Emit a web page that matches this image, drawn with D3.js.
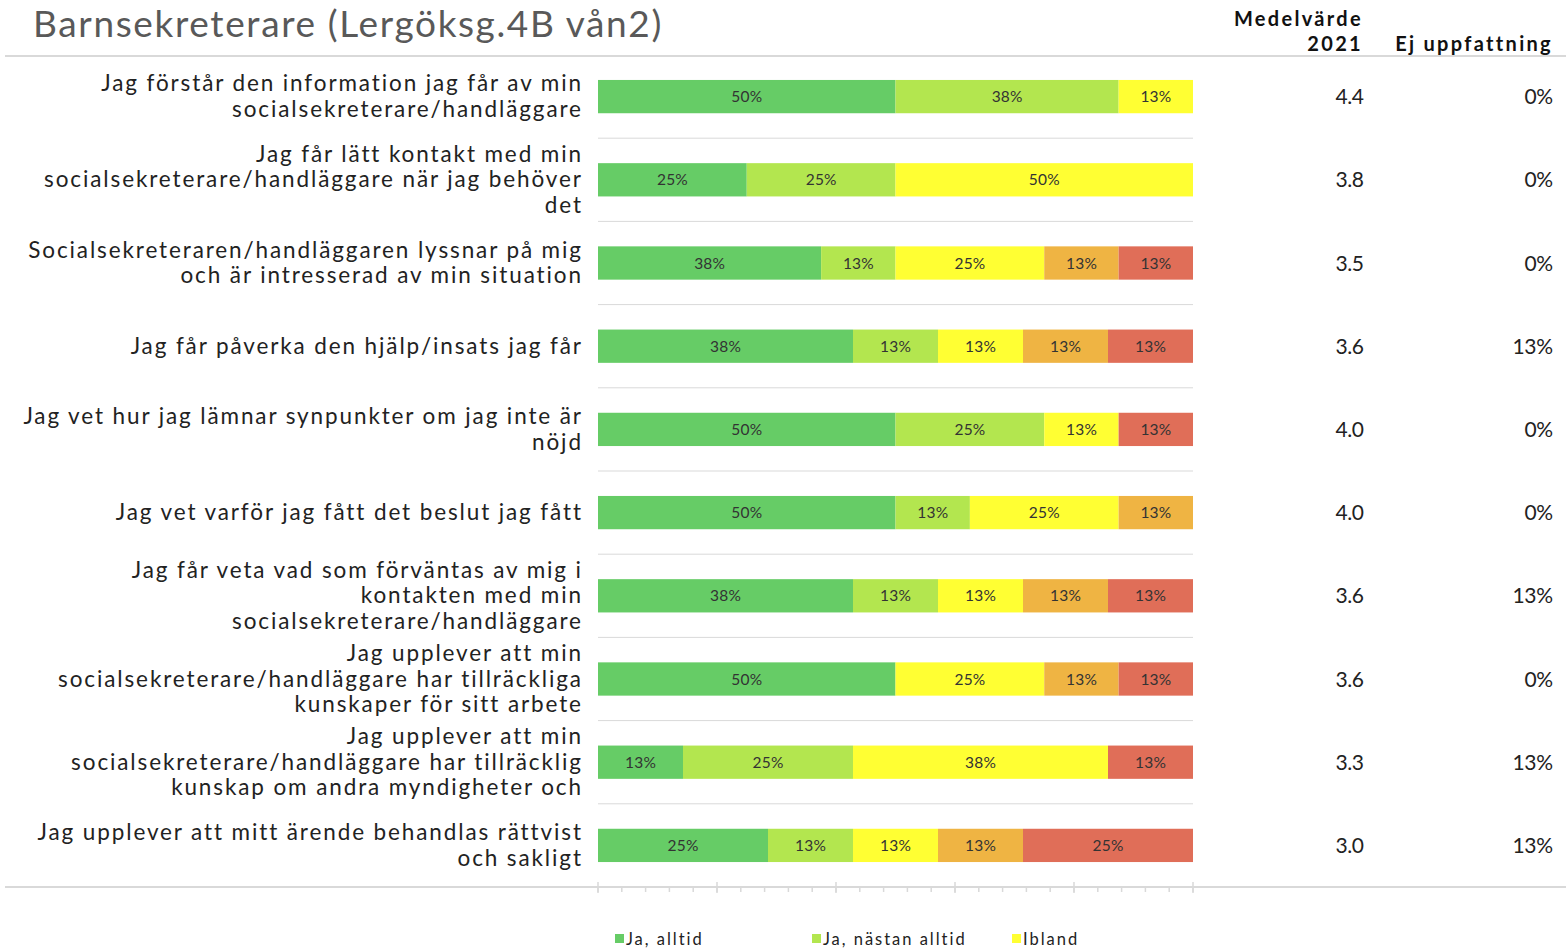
<!DOCTYPE html>
<html><head><meta charset="utf-8">
<script src="https://cdn.jsdelivr.net/npm/d3@7/dist/d3.min.js"></script>
<style>
body{margin:0;background:#fff;}
svg{display:block;}
text{font-family:"Lato","DejaVu Sans",sans-serif;}
</style></head>
<body><svg id="c" width="1566" height="948"></svg>
<script>
const title = "Barnsekreterare (Lergöksg.4B vån2)";
const questions = [
  ["Jag förstår den information jag får av min","socialsekreterare/handläggare"],
  ["Jag får lätt kontakt med min","socialsekreterare/handläggare när jag behöver","det"],
  ["Socialsekreteraren/handläggaren lyssnar på mig","och är intresserad av min situation"],
  ["Jag får påverka den hjälp/insats jag får"],
  ["Jag vet hur jag lämnar synpunkter om jag inte är","nöjd"],
  ["Jag vet varför jag fått det beslut jag fått"],
  ["Jag får veta vad som förväntas av mig i","kontakten med min","socialsekreterare/handläggare"],
  ["Jag upplever att min","socialsekreterare/handläggare har tillräckliga","kunskaper för sitt arbete"],
  ["Jag upplever att min","socialsekreterare/handläggare har tillräcklig","kunskap om andra myndigheter och"],
  ["Jag upplever att mitt ärende behandlas rättvist","och sakligt"]
];
const seriesNames = ["Ja, alltid","Ja, nästan alltid","Ibland","Sällan","Aldrig"];
const jaAlltid      = [50, 25, 37.5, 37.5, 50, 50, 37.5, 50, 12.5, 25];
const jaNastanAlltid= [37.5, 25, 12.5, 12.5, 25, 12.5, 12.5, 0, 25, 12.5];
const ibland        = [12.5, 50, 25, 12.5, 12.5, 25, 12.5, 25, 37.5, 12.5];
const sallan        = [0, 0, 12.5, 12.5, 0, 12.5, 12.5, 12.5, 0, 12.5];
const aldrig        = [0, 0, 12.5, 12.5, 12.5, 0, 12.5, 12.5, 12.5, 25];
const medelvarde    = ["4.4","3.8","3.5","3.6","4.0","4.0","3.6","3.6","3.3","3.0"];
const ejUppfattning = ["0%","0%","0%","13%","0%","0%","13%","0%","13%","13%"];
const colors = ["#66CC66","#B3E64F","#FFFF33","#EFB443","#E06E58"];
const legendShown = 3;

const svg = d3.select("#c");

// letter-spacing so that a sample string reaches the width seen in the reference
function spacingFor(sample, target, size, weight){
  const t = svg.append("text").attr("font-size",size).attr("font-weight",weight||"normal").text(sample);
  const w = t.node().getComputedTextLength();
  t.remove();
  return (target - w) / sample.length;
}

const seriesArr = [jaAlltid, jaNastanAlltid, ibland, sallan, aldrig];
const rows = questions.map((q,i)=>{
  const vals = seriesArr.map(s=>s[i]);
  const total = d3.sum(vals);
  let acc = 0;
  const segs = vals.map((v,k)=>{ const s={k, v, x0:acc/total, x1:(acc+v)/total}; acc+=v; return s;});
  return {i, q, segs};
});

const y = d3.scaleBand().domain(d3.range(questions.length)).range([55,887]).paddingInner(0.6).paddingOuter(0.3);
const x = d3.scaleLinear().domain([0,1]).range([598,1193]);
const step = y.step();

const qSize = 22.5, qSp = spacingFor("Jag förstår den information jag får av min", 482, qSize);
const tSize = 37, tSp = spacingFor(title, 630, tSize);
const hSize = 20, hSp = spacingFor("Ej uppfattning", 157, hSize, "bold");
const vSize = 21, vSp = spacingFor("13%", 40, vSize);
const bSize = 15.5, bSp = spacingFor("50%", 31, bSize);
const lSize = 16.5, lSp = spacingFor("Ja, alltid", 78, lSize);

// title
svg.append("text").attr("x",33).attr("y",37).attr("font-size",tSize).attr("fill","#595959")
  .attr("letter-spacing",tSp).text(title);

// header
const hdr = [["Medelvärde",1363,26],["2021",1363,51],["Ej uppfattning",1553,51]];
svg.selectAll(".hdr").data(hdr).join("text").attr("x",d=>d[1]).attr("y",d=>d[2]).attr("text-anchor","end")
  .attr("font-size",hSize).attr("font-weight","bold").attr("fill","#111").attr("letter-spacing",hSp).text(d=>d[0]);

// rules
svg.append("line").attr("x1",5).attr("x2",1566).attr("y1",56).attr("y2",56).attr("stroke","#d9d9d9").attr("stroke-width",2);
svg.append("line").attr("x1",5).attr("x2",1566).attr("y1",887).attr("y2",887).attr("stroke","#d9d9d9").attr("stroke-width",2);

// row separators
svg.selectAll(".sep").data(d3.range(1,questions.length)).join("line")
  .attr("x1",x(0)).attr("x2",x(1))
  .attr("y1",d=>y(d)-step*0.3).attr("y2",d=>y(d)-step*0.3)
  .attr("stroke","#d9d9d9").attr("stroke-width",1);

// axis
const axis = svg.append("g").attr("transform","translate(0,887)");
axis.selectAll(".minor").data(d3.range(0,1.0001,0.04)).join("line")
  .attr("x1",d=>x(d)).attr("x2",d=>x(d)).attr("y1",0).attr("y2",5).attr("stroke","#d9d9d9").attr("stroke-width",1.5);
axis.selectAll(".major").data(x.ticks(5)).join("line")
  .attr("x1",d=>x(d)).attr("x2",d=>x(d)).attr("y1",-5).attr("y2",6).attr("stroke","#d9d9d9").attr("stroke-width",1.5);

// bars
const g = svg.selectAll(".row").data(rows).join("g").attr("class","row");
g.selectAll("rect").data(d=>d.segs.filter(s=>s.v>0).map(s=>({...s,row:d.i}))).join("rect")
  .attr("x",d=>x(d.x0)).attr("width",d=>x(d.x1)-x(d.x0))
  .attr("y",d=>y(d.row)).attr("height",y.bandwidth())
  .attr("fill",d=>colors[d.k]);
g.selectAll(".lbl").data(d=>d.segs.filter(s=>s.v>0).map(s=>({...s,row:d.i}))).join("text")
  .attr("x",d=>(x(d.x0)+x(d.x1))/2 + bSp/2).attr("y",d=>y(d.row)+y.bandwidth()/2+5.5)
  .attr("text-anchor","middle").attr("font-size",bSize).attr("fill","#333").attr("letter-spacing",bSp)
  .text(d=>Math.round(d.v)+"%");

// question labels
const lh = 25.5;
g.each(function(d){
  const cy = y(d.i)+y.bandwidth()/2;
  const n = d.q.length;
  d3.select(this).selectAll(".q").data(d.q).join("text")
    .attr("x",581+qSp).attr("y",(t,j)=>cy+(j-(n-1)/2)*lh+7.5)
    .attr("text-anchor","end").attr("font-size",qSize).attr("fill","#222").attr("letter-spacing",qSp)
    .text(t=>t);
});

// values
g.append("text").attr("x",1364+vSp).attr("y",d=>y(d.i)+y.bandwidth()/2+7.5).attr("text-anchor","end")
  .attr("font-size",vSize).attr("fill","#222").attr("letter-spacing",vSp).text(d=>medelvarde[d.i]);
g.append("text").attr("x",1553+vSp).attr("y",d=>y(d.i)+y.bandwidth()/2+7.5).attr("text-anchor","end")
  .attr("font-size",vSize).attr("fill","#222").attr("letter-spacing",vSp).text(d=>ejUppfattning[d.i]);

// legend
const legX = [615, 812, 1012];
const lg = svg.selectAll(".leg").data(seriesNames.slice(0,legendShown)).join("g")
  .attr("transform",(d,i)=>`translate(${legX[i]},939)`);
lg.append("rect").attr("x",0).attr("y",-5).attr("width",9).attr("height",9).attr("fill",(d,i)=>colors[i]);
lg.append("text").attr("x",11).attr("y",6).attr("font-size",lSize).attr("fill","#222").attr("letter-spacing",lSp).text(d=>d);
</script></body></html>
